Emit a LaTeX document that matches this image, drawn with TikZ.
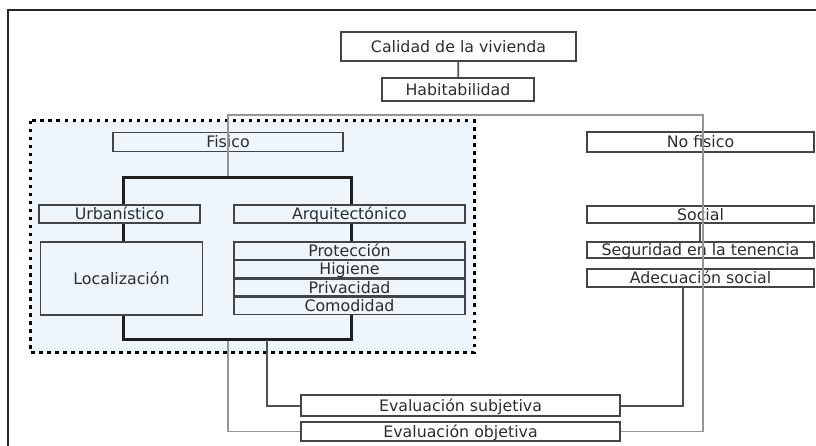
\documentclass[tikz,border=0pt]{standalone}
\usepackage{fontspec}
\setmainfont{DejaVu Sans}
\definecolor{regionfill}{RGB}{238,246,252}
\definecolor{boxline}{RGB}{68,68,68}
\definecolor{boxtext}{RGB}{45,45,45}
\definecolor{thinline}{RGB}{150,150,150}
\definecolor{darkline}{RGB}{80,80,80}
\begin{document}
\begin{tikzpicture}[x=1pt,y=-1pt,
  lbl/.style={draw=boxline,line width=1.8pt,inner sep=0pt,text=boxtext,
    font=\fontsize{15.8}{18}\selectfont,text height=11.5pt,text depth=0pt,
    minimum width=#1},
  lbl/.default=227pt,
  bracket/.style={line width=3pt,draw={black!88}},
  thin/.style={line width=1.3pt,draw=thinline},
  dark/.style={line width=2pt,draw=darkline},
  region/.style={fill=regionfill,draw=black,line width=3pt,dash pattern=on 3.5pt off 4.5pt}]
\useasboundingbox (0,0) rectangle (816,446);

% outer frame (left and top edges)
\draw[line width=2pt,black!85] (8,446) -- (8,10) -- (816,10);

% shaded region of the physical dimension
\path[region] (30,121) rectangle (474,352);

% boxes
\node[lbl=235pt,minimum height=29pt] (calidad) at (458.5,46.5) {Calidad de la vivienda};
\node[lbl=152pt,minimum height=23pt] (habit) at (458,89.5) {Habitabilidad};

\node[lbl=230pt,minimum height=19pt] (fisico) at (228,142) {Fisico};
\node[lbl=161pt,minimum height=18pt] (urban) at (119.5,214) {Urbanístico};
\node[lbl=231pt,minimum height=18pt] (arqui) at (349.5,214) {Arquitectónico};
\node[lbl=162pt,minimum height=73pt] (local) at (121.5,278.5) {Localización};
\node[lbl=231pt,minimum height=17.5pt] (prot) at (349.5,250.75) {Protección};
\node[lbl=231pt,minimum height=17.5pt] (hig) at (349.5,269.05) {Higiene};
\node[lbl=231pt,minimum height=17.5pt] (priv) at (349.5,287.35) {Privacidad};
\node[lbl=231pt,minimum height=17.5pt] (comod) at (349.5,305.65) {Comodidad};

\node[lbl,minimum height=20pt] (nofisico) at (700.5,142) {No fisico};
\node[lbl,minimum height=17pt] (social) at (700.5,214.5) {Social};
\node[lbl,minimum height=16pt] (segur) at (700.5,250) {Seguridad en la tenencia};
\node[lbl,minimum height=18pt] (adec) at (700.5,278) {Adecuación social};

\node[lbl=319pt,minimum height=21pt] (subj) at (460.5,405.5) {Evaluación subjetiva};
\node[lbl=319pt,minimum height=19pt] (obj) at (460.5,431.5) {Evaluación objetiva};

% reference points of the connectors
\coordinate (btl) at (123.5,178);
\coordinate (btr) at (351.5,178);
\coordinate (bbl) at (123.5,339.5);
\coordinate (bbr) at (351.5,339.5);
\coordinate (gtop) at (228,115);
\coordinate (gright) at (703,115);
\coordinate (sdown) at (267,339.5);
\coordinate (adown) at (683,287);

% top link
\draw[dark,line width=1.8pt] (calidad) -- (habit);

% thin frame joining both dimensions and the objective evaluation
\draw[thin] (fisico |- btl) -- (fisico |- gtop) -- (gright) -- (gright |- obj.east) -- (obj.east);
\draw[thin] (fisico |- bbl) -- (fisico |- obj.west) -- (obj.west);

% bracket of the physical dimension
\draw[bracket] (urban.north -| btl) -- (btl) -- (btr) -- (arqui.north -| btr);
\draw[bracket] (urban.south -| btl) -- (local.north -| btl);
\draw[bracket] (arqui.south -| btr) -- (prot.north -| btr);
\draw[bracket] (local.south -| bbl) -- (bbl) -- (bbr) -- (comod.south -| bbr);

% subjective evaluation links
\draw[dark] (sdown) -- (sdown |- subj.west) -- (subj.west);
\draw[dark] (adown) -- (adown |- subj.east) -- (subj.east);
\draw[dark] ([xshift=-1pt]social.south) -- ([xshift=-1pt]segur.north);
\end{tikzpicture}
\end{document}
